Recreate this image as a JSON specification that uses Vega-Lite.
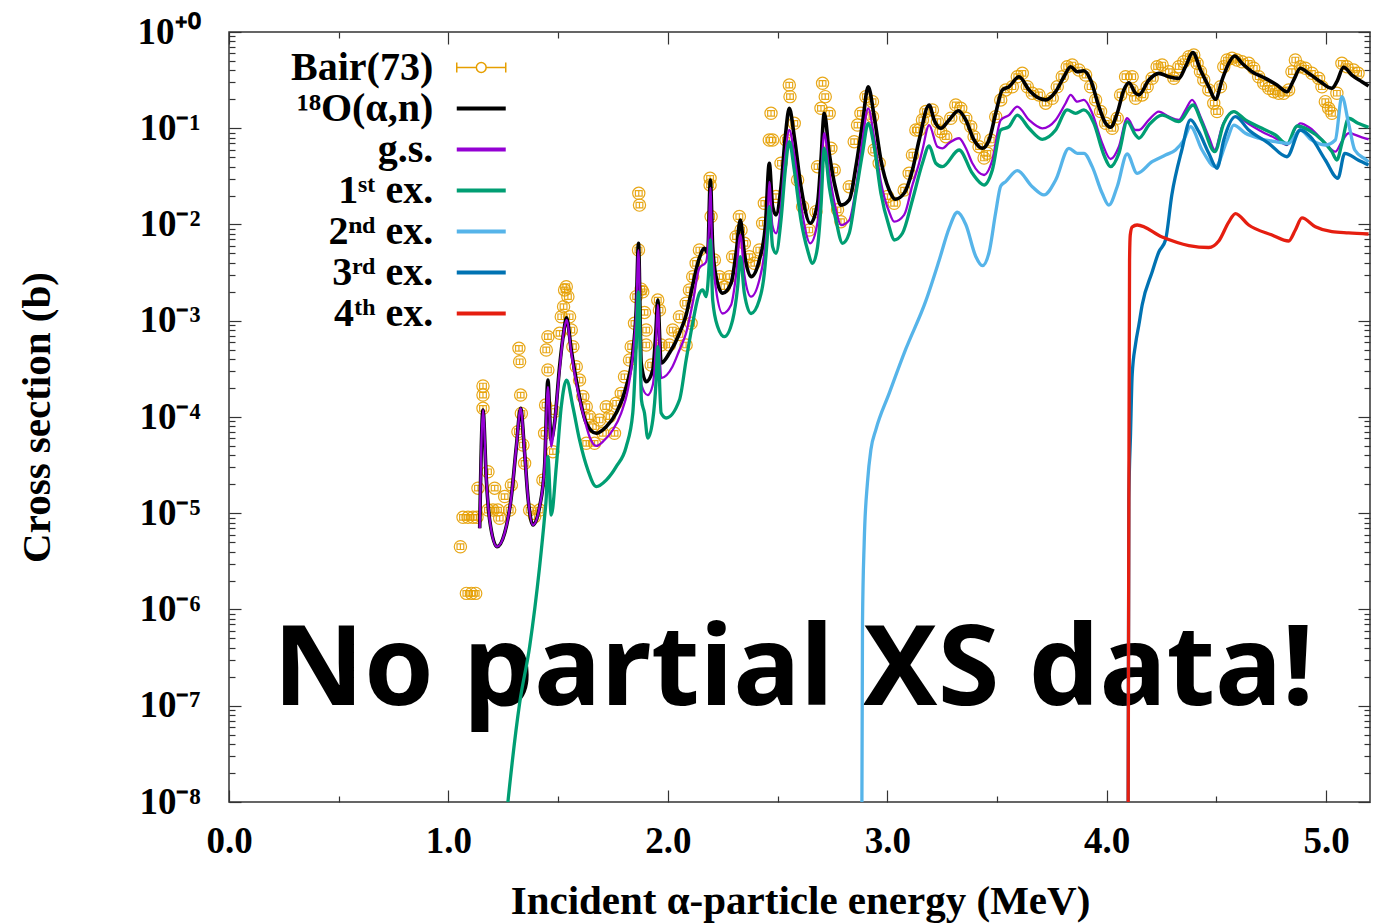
{
  "$schema": "https://vega.github.io/schema/vega-lite/v6.json",
  "width": 1141,
  "height": 770,
  "autosize": {"type": "none"},
  "padding": {"left": 229, "top": 32, "right": 21, "bottom": 121},
  "background": "white",
  "config": {
    "view": {"stroke": "#333333", "strokeWidth": 1.5},
    "axis": {"domain": false, "grid": false, "tickColor": "#333333", "tickWidth": 1.2},
    "legend": {"orient": "none", "legendX": 232.25, "direction": "vertical", "title": null,
      "symbolType": "M-2,0L2,0", "symbolSize": 600, "symbolStrokeWidth": 4, "symbolFillColor": "transparent",
      "labelFont": "Liberation Serif", "labelFontWeight": "bold", "labelFontSize": 40, "labelColor": "#000000",
      "labelAlign": "right", "labelBaseline": "middle", "labelOffset": -68, "labelLimit": 600, "rowPadding": 1, "padding": 0}
  },
  "datasets": {
    "bair": [
      {"s":"Bair(73)","E":1.0546,"xs":4.49e-6},{"s":"Bair(73)","E":1.0665,"xs":9.08e-6},{"s":"Bair(73)","E":1.0892,"xs":9.08e-6},{"s":"Bair(73)","E":1.112,"xs":9.08e-6},{"s":"Bair(73)","E":1.1302,"xs":9.08e-6},
      {"s":"Bair(73)","E":1.0819,"xs":1.47e-6},{"s":"Bair(73)","E":1.1047,"xs":1.47e-6},{"s":"Bair(73)","E":1.1243,"xs":1.47e-6},{"s":"Bair(73)","E":1.1347,"xs":1.82e-5},
      {"s":"Bair(73)","E":1.1575,"xs":1.23e-4},{"s":"Bair(73)","E":1.1575,"xs":1.69e-4},{"s":"Bair(73)","E":1.1575,"xs":2.10e-4},{"s":"Bair(73)","E":1.1802,"xs":2.70e-5},
      {"s":"Bair(73)","E":1.1802,"xs":1.08e-5},{"s":"Bair(73)","E":1.203,"xs":1.08e-5},{"s":"Bair(73)","E":1.2107,"xs":1.82e-5},{"s":"Bair(73)","E":1.2257,"xs":1.08e-5},
      {"s":"Bair(73)","E":1.2335,"xs":8.87e-6},{"s":"Bair(73)","E":1.2563,"xs":1.49e-5},{"s":"Bair(73)","E":1.279,"xs":1.08e-5},{"s":"Bair(73)","E":1.2868,"xs":1.97e-5},
      {"s":"Bair(73)","E":1.3213,"xs":5.17e-4},{"s":"Bair(73)","E":1.3245,"xs":3.75e-4},{"s":"Bair(73)","E":1.3291,"xs":1.69e-4},{"s":"Bair(73)","E":1.3323,"xs":1.09e-4},
      {"s":"Bair(73)","E":1.3168,"xs":7.03e-5},{"s":"Bair(73)","E":1.3396,"xs":5.12e-5},{"s":"Bair(73)","E":1.3473,"xs":3.30e-5},{"s":"Bair(73)","E":1.3701,"xs":1.08e-5},
      {"s":"Bair(73)","E":1.3928,"xs":9.21e-6},{"s":"Bair(73)","E":1.4156,"xs":1.08e-5},{"s":"Bair(73)","E":1.4306,"xs":2.21e-5},{"s":"Bair(73)","E":1.4383,"xs":6.77e-5},
      {"s":"Bair(73)","E":1.4429,"xs":1.33e-4},{"s":"Bair(73)","E":1.4533,"xs":3.08e-4},{"s":"Bair(73)","E":1.4461,"xs":4.97e-4},{"s":"Bair(73)","E":1.4533,"xs":6.83e-4},
      {"s":"Bair(73)","E":1.4761,"xs":4.36e-5},{"s":"Bair(73)","E":1.4838,"xs":1.14e-4},{"s":"Bair(73)","E":1.5066,"xs":7.4e-4},{"s":"Bair(73)","E":1.5143,"xs":1.10e-3},
      {"s":"Bair(73)","E":1.5248,"xs":1.40e-3},{"s":"Bair(73)","E":1.5294,"xs":2.09e-3},{"s":"Bair(73)","E":1.5371,"xs":2.26e-3},{"s":"Bair(73)","E":1.5444,"xs":1.78e-3},
      {"s":"Bair(73)","E":1.5521,"xs":1.10e-3},{"s":"Bair(73)","E":1.5599,"xs":8.01e-4},{"s":"Bair(73)","E":1.5671,"xs":5.38e-4},{"s":"Bair(73)","E":1.5826,"xs":3.33e-4},
      {"s":"Bair(73)","E":1.5976,"xs":2.42e-4},{"s":"Bair(73)","E":1.6127,"xs":1.63e-4},{"s":"Bair(73)","E":1.6281,"xs":1.28e-4},{"s":"Bair(73)","E":1.6431,"xs":1.01e-4},
      {"s":"Bair(73)","E":1.6582,"xs":7.93e-5},{"s":"Bair(73)","E":1.6281,"xs":5.33e-5},{"s":"Bair(73)","E":1.6659,"xs":5.33e-5},{"s":"Bair(73)","E":1.6887,"xs":9.31e-5},
      {"s":"Bair(73)","E":1.7037,"xs":6.77e-5},{"s":"Bair(73)","E":1.7192,"xs":1.28e-4},{"s":"Bair(73)","E":1.7342,"xs":1.01e-4},{"s":"Bair(73)","E":1.757,"xs":6.77e-5},
      {"s":"Bair(73)","E":1.7647,"xs":1.39e-4},{"s":"Bair(73)","E":1.7874,"xs":1.76e-4},{"s":"Bair(73)","E":1.8025,"xs":2.62e-4},{"s":"Bair(73)","E":1.8252,"xs":3.91e-4},
      {"s":"Bair(73)","E":1.833,"xs":5.38e-4},{"s":"Bair(73)","E":1.848,"xs":9.41e-4},{"s":"Bair(73)","E":1.8557,"xs":1.78e-3},{"s":"Bair(73)","E":1.8857,"xs":2.00e-3},
      {"s":"Bair(73)","E":1.8935,"xs":1.22e-3},{"s":"Bair(73)","E":1.9012,"xs":8.01e-4},{"s":"Bair(73)","E":1.9012,"xs":5.6e-4},{"s":"Bair(73)","E":1.924,"xs":3.47e-4},
      {"s":"Bair(73)","E":1.954,"xs":1.64e-3},{"s":"Bair(73)","E":1.9618,"xs":1.29e-3},{"s":"Bair(73)","E":1.9695,"xs":5.6e-4},{"s":"Bair(73)","E":2.0073,"xs":5.6e-4},
      {"s":"Bair(73)","E":2.0528,"xs":7.2e-4},{"s":"Bair(73)","E":2.0833,"xs":5.6e-4},{"s":"Bair(73)","E":2.1061,"xs":9.41e-4},{"s":"Bair(73)","E":1.8675,"xs":2.11e-2},
      {"s":"Bair(73)","E":1.8707,"xs":1.59e-2},{"s":"Bair(73)","E":1.8662,"xs":5.43e-3},{"s":"Bair(73)","E":1.8785,"xs":2.13e-3},{"s":"Bair(73)","E":2.1438,"xs":5.43e-3},
      {"s":"Bair(73)","E":2.1288,"xs":3.95e-3},{"s":"Bair(73)","E":2.1133,"xs":2.87e-3},{"s":"Bair(73)","E":2.0983,"xs":2.09e-3},{"s":"Bair(73)","E":2.0833,"xs":1.52e-3},
      {"s":"Bair(73)","E":2.0528,"xs":1.10e-3},{"s":"Bair(73)","E":2.0223,"xs":8.01e-4},{"s":"Bair(73)","E":2.1925,"xs":3.02e-2},{"s":"Bair(73)","E":2.1925,"xs":2.58e-2},
      {"s":"Bair(73)","E":2.1971,"xs":1.21e-2},{"s":"Bair(73)","E":2.2121,"xs":4.28e-3},{"s":"Bair(73)","E":2.2349,"xs":2.87e-3},{"s":"Bair(73)","E":2.2576,"xs":2.26e-3},
      {"s":"Bair(73)","E":2.2804,"xs":2.87e-3},{"s":"Bair(73)","E":2.2954,"xs":4.63e-3},{"s":"Bair(73)","E":2.3109,"xs":7.47e-3},{"s":"Bair(73)","E":2.3259,"xs":1.21e-2},
      {"s":"Bair(73)","E":2.3336,"xs":8.77e-3},{"s":"Bair(73)","E":2.3487,"xs":6.38e-3},{"s":"Bair(73)","E":2.3714,"xs":4.63e-3},{"s":"Bair(73)","E":2.3942,"xs":3.95e-3},
      {"s":"Bair(73)","E":2.4169,"xs":5.43e-3},{"s":"Bair(73)","E":2.432,"xs":1.03e-2},{"s":"Bair(73)","E":2.4397,"xs":1.66e-2},{"s":"Bair(73)","E":2.4702,"xs":0.143},
      {"s":"Bair(73)","E":2.4624,"xs":7.55e-2},{"s":"Bair(73)","E":2.4775,"xs":7.55e-2},{"s":"Bair(73)","E":2.4929,"xs":1.95e-2},{"s":"Bair(73)","E":2.5157,"xs":4.33e-2},
      {"s":"Bair(73)","E":2.5384,"xs":7.55e-2},{"s":"Bair(73)","E":2.5535,"xs":0.281},{"s":"Bair(73)","E":2.5567,"xs":0.213},{"s":"Bair(73)","E":2.5762,"xs":0.1125},
      {"s":"Bair(73)","E":2.5913,"xs":2.90e-2},{"s":"Bair(73)","E":2.614,"xs":1.53e-2},{"s":"Bair(73)","E":2.6445,"xs":8.77e-3},{"s":"Bair(73)","E":2.675,"xs":1.36e-2},
      {"s":"Bair(73)","E":2.6823,"xs":3.99e-2},{"s":"Bair(73)","E":2.6978,"xs":0.161},{"s":"Bair(73)","E":2.7051,"xs":0.293},{"s":"Bair(73)","E":2.7173,"xs":0.213},
      {"s":"Bair(73)","E":2.7355,"xs":0.143},{"s":"Bair(73)","E":2.7433,"xs":6.19e-2},{"s":"Bair(73)","E":2.7583,"xs":3.68e-2},{"s":"Bair(73)","E":2.7733,"xs":1.42e-2},
      {"s":"Bair(73)","E":2.7888,"xs":1.07e-2},{"s":"Bair(73)","E":2.8266,"xs":2.47e-2},{"s":"Bair(73)","E":2.8493,"xs":7.25e-2},{"s":"Bair(73)","E":2.8644,"xs":0.108},
      {"s":"Bair(73)","E":2.8798,"xs":0.143},{"s":"Bair(73)","E":2.9026,"xs":0.213},{"s":"Bair(73)","E":2.9326,"xs":0.189},{"s":"Bair(73)","E":2.9326,"xs":0.132},
      {"s":"Bair(73)","E":2.9404,"xs":5.94e-2},{"s":"Bair(73)","E":2.9631,"xs":4.33e-2},{"s":"Bair(73)","E":3.0009,"xs":1.95e-2},{"s":"Bair(73)","E":3.0314,"xs":1.66e-2},
      {"s":"Bair(73)","E":3.0769,"xs":2.28e-2},{"s":"Bair(73)","E":3.0997,"xs":3.4e-2},{"s":"Bair(73)","E":3.1147,"xs":5.27e-2},{"s":"Bair(73)","E":3.1302,"xs":9.59e-2},
      {"s":"Bair(73)","E":3.1452,"xs":9.59e-2},{"s":"Bair(73)","E":3.1602,"xs":0.122},{"s":"Bair(73)","E":3.1757,"xs":0.149},{"s":"Bair(73)","E":3.2057,"xs":0.155},
      {"s":"Bair(73)","E":3.2285,"xs":0.117},{"s":"Bair(73)","E":3.244,"xs":9.21e-2},{"s":"Bair(73)","E":3.2667,"xs":8.17e-2},{"s":"Bair(73)","E":3.2895,"xs":0.127},
      {"s":"Bair(73)","E":3.3122,"xs":0.1745},{"s":"Bair(73)","E":3.335,"xs":0.161},{"s":"Bair(73)","E":3.3578,"xs":0.127},{"s":"Bair(73)","E":3.3805,"xs":0.104},
      {"s":"Bair(73)","E":3.3955,"xs":8.17e-2},{"s":"Bair(73)","E":3.4183,"xs":6.43e-2},{"s":"Bair(73)","E":3.4411,"xs":4.91e-2},{"s":"Bair(73)","E":3.4561,"xs":5.49e-2},
      {"s":"Bair(73)","E":3.4715,"xs":7.55e-2},{"s":"Bair(73)","E":3.4943,"xs":0.132},{"s":"Bair(73)","E":3.5171,"xs":0.197},{"s":"Bair(73)","E":3.5398,"xs":0.25},
      {"s":"Bair(73)","E":3.5699,"xs":0.27},{"s":"Bair(73)","E":3.5926,"xs":0.343},{"s":"Bair(73)","E":3.6154,"xs":0.372},{"s":"Bair(73)","E":3.6381,"xs":0.27},
      {"s":"Bair(73)","E":3.6609,"xs":0.231},{"s":"Bair(73)","E":3.6914,"xs":0.222},{"s":"Bair(73)","E":3.7219,"xs":0.182},{"s":"Bair(73)","E":3.7519,"xs":0.205},
      {"s":"Bair(73)","E":3.7747,"xs":0.27},{"s":"Bair(73)","E":3.7974,"xs":0.343},{"s":"Bair(73)","E":3.8202,"xs":0.436},{"s":"Bair(73)","E":3.8429,"xs":0.454},
      {"s":"Bair(73)","E":3.8735,"xs":0.403},{"s":"Bair(73)","E":3.9039,"xs":0.357},{"s":"Bair(73)","E":3.9267,"xs":0.27},{"s":"Bair(73)","E":3.9495,"xs":0.197},
      {"s":"Bair(73)","E":3.9722,"xs":0.149},{"s":"Bair(73)","E":3.995,"xs":0.1125},{"s":"Bair(73)","E":4.0251,"xs":0.0999},{"s":"Bair(73)","E":4.0478,"xs":0.127},
      {"s":"Bair(73)","E":4.0633,"xs":0.222},{"s":"Bair(73)","E":4.086,"xs":0.343},{"s":"Bair(73)","E":4.1161,"xs":0.343},{"s":"Bair(73)","E":4.1161,"xs":0.25},
      {"s":"Bair(73)","E":4.1316,"xs":0.205},{"s":"Bair(73)","E":4.1616,"xs":0.222},{"s":"Bair(73)","E":4.1843,"xs":0.27},{"s":"Bair(73)","E":4.2071,"xs":0.33},
      {"s":"Bair(73)","E":4.2299,"xs":0.436},{"s":"Bair(73)","E":4.2526,"xs":0.454},{"s":"Bair(73)","E":4.2831,"xs":0.387},{"s":"Bair(73)","E":4.3059,"xs":0.33},
      {"s":"Bair(73)","E":4.3286,"xs":0.436},{"s":"Bair(73)","E":4.3514,"xs":0.491},{"s":"Bair(73)","E":4.3741,"xs":0.554},{"s":"Bair(73)","E":4.3969,"xs":0.577},
      {"s":"Bair(73)","E":4.4119,"xs":0.473},{"s":"Bair(73)","E":4.4274,"xs":0.387},{"s":"Bair(73)","E":4.4424,"xs":0.317},{"s":"Bair(73)","E":4.4652,"xs":0.25},
      {"s":"Bair(73)","E":4.4879,"xs":0.182},{"s":"Bair(73)","E":4.5029,"xs":0.149},{"s":"Bair(73)","E":4.5184,"xs":0.27},{"s":"Bair(73)","E":4.5335,"xs":0.436},
      {"s":"Bair(73)","E":4.5485,"xs":0.512},{"s":"Bair(73)","E":4.5712,"xs":0.533},{"s":"Bair(73)","E":4.594,"xs":0.512},{"s":"Bair(73)","E":4.6167,"xs":0.491},
      {"s":"Bair(73)","E":4.6472,"xs":0.473},{"s":"Bair(73)","E":4.67,"xs":0.42},{"s":"Bair(73)","E":4.6928,"xs":0.343},{"s":"Bair(73)","E":4.7155,"xs":0.293},
      {"s":"Bair(73)","E":4.7383,"xs":0.26},{"s":"Bair(73)","E":4.7611,"xs":0.24},{"s":"Bair(73)","E":4.7838,"xs":0.231},{"s":"Bair(73)","E":4.8066,"xs":0.231},
      {"s":"Bair(73)","E":4.8293,"xs":0.25},{"s":"Bair(73)","E":4.8443,"xs":0.387},{"s":"Bair(73)","E":4.8598,"xs":0.512},{"s":"Bair(73)","E":4.8826,"xs":0.436},
      {"s":"Bair(73)","E":4.9053,"xs":0.42},{"s":"Bair(73)","E":4.9353,"xs":0.372},{"s":"Bair(73)","E":4.9659,"xs":0.33},{"s":"Bair(73)","E":4.9809,"xs":0.27},
      {"s":"Bair(73)","E":4.9964,"xs":0.189},{"s":"Bair(73)","E":5.0114,"xs":0.161},{"s":"Bair(73)","E":5.0264,"xs":0.143},{"s":"Bair(73)","E":5.0491,"xs":0.231},
      {"s":"Bair(73)","E":5.0719,"xs":0.473},{"s":"Bair(73)","E":5.0947,"xs":0.436},{"s":"Bair(73)","E":5.1252,"xs":0.403},{"s":"Bair(73)","E":5.1456,"xs":0.372}
    ],
    "total": [
      {"s":"¹⁸O(α,n)","E":1.1425,"xs":6.98e-6},{"s":"¹⁸O(α,n)","E":1.1575,"xs":1.18e-4},{"s":"¹⁸O(α,n)","E":1.173,"xs":2.21e-5},{"s":"¹⁸O(α,n)","E":1.188,"xs":8.51e-6},
      {"s":"¹⁸O(α,n)","E":1.2212,"xs":4.49e-6},{"s":"¹⁸O(α,n)","E":1.2563,"xs":6.24e-6},{"s":"¹⁸O(α,n)","E":1.2868,"xs":1.49e-5},{"s":"¹⁸O(α,n)","E":1.3095,"xs":4.91e-5},
      {"s":"¹⁸O(α,n)","E":1.3291,"xs":1.23e-4},{"s":"¹⁸O(α,n)","E":1.3473,"xs":4.23e-5},{"s":"¹⁸O(α,n)","E":1.3623,"xs":1.49e-5},{"s":"¹⁸O(α,n)","E":1.3851,"xs":7.55e-6},
      {"s":"¹⁸O(α,n)","E":1.4156,"xs":1.17e-5},{"s":"¹⁸O(α,n)","E":1.4383,"xs":3.05e-5},{"s":"¹⁸O(α,n)","E":1.4533,"xs":2.42e-4},{"s":"¹⁸O(α,n)","E":1.4679,"xs":5.77e-5},
      {"s":"¹⁸O(α,n)","E":1.4838,"xs":8.67e-5},{"s":"¹⁸O(α,n)","E":1.5066,"xs":3.33e-4},{"s":"¹⁸O(α,n)","E":1.5248,"xs":7.46e-4},{"s":"¹⁸O(α,n)","E":1.5385,"xs":1.07e-3},
      {"s":"¹⁸O(α,n)","E":1.5599,"xs":4.97e-4},{"s":"¹⁸O(α,n)","E":1.5826,"xs":2.42e-4},{"s":"¹⁸O(α,n)","E":1.6281,"xs":8.67e-5},{"s":"¹⁸O(α,n)","E":1.6736,"xs":6.77e-5},
      {"s":"¹⁸O(α,n)","E":1.7192,"xs":7.93e-5},{"s":"¹⁸O(α,n)","E":1.7647,"xs":1.10e-4},{"s":"¹⁸O(α,n)","E":1.8102,"xs":2.06e-4},{"s":"¹⁸O(α,n)","E":1.8402,"xs":4.62e-4},
      {"s":"¹⁸O(α,n)","E":1.8557,"xs":1.29e-3},{"s":"¹⁸O(α,n)","E":1.8662,"xs":6.38e-3},{"s":"¹⁸O(α,n)","E":1.8785,"xs":3.64e-4},{"s":"¹⁸O(α,n)","E":1.9012,"xs":2.33e-4},
      {"s":"¹⁸O(α,n)","E":1.9313,"xs":3.08e-4},{"s":"¹⁸O(α,n)","E":1.9458,"xs":8.01e-4},{"s":"¹⁸O(α,n)","E":1.954,"xs":1.64e-3},{"s":"¹⁸O(α,n)","E":1.9695,"xs":3.64e-4},
      {"s":"¹⁸O(α,n)","E":2.0073,"xs":4.62e-4},{"s":"¹⁸O(α,n)","E":2.0528,"xs":7.38e-4},{"s":"¹⁸O(α,n)","E":2.0833,"xs":1.15e-3},{"s":"¹⁸O(α,n)","E":2.1133,"xs":2.35e-3},
      {"s":"¹⁸O(α,n)","E":2.1438,"xs":4.49e-3},{"s":"¹⁸O(α,n)","E":2.1666,"xs":5.66e-3},{"s":"¹⁸O(α,n)","E":2.1816,"xs":5.06e-3},{"s":"¹⁸O(α,n)","E":2.1939,"xs":2.90e-2},
      {"s":"¹⁸O(α,n)","E":2.2044,"xs":5.88e-3},{"s":"¹⁸O(α,n)","E":2.2198,"xs":2.87e-3},{"s":"¹⁸O(α,n)","E":2.2499,"xs":1.93e-3},{"s":"¹⁸O(α,n)","E":2.2881,"xs":2.45e-3},
      {"s":"¹⁸O(α,n)","E":2.3109,"xs":5.02e-3},{"s":"¹⁸O(α,n)","E":2.3304,"xs":1.11e-2},{"s":"¹⁸O(α,n)","E":2.3487,"xs":5.02e-3},{"s":"¹⁸O(α,n)","E":2.3792,"xs":2.87e-3},
      {"s":"¹⁸O(α,n)","E":2.4169,"xs":4.28e-3},{"s":"¹⁸O(α,n)","E":2.4442,"xs":9.48e-3},{"s":"¹⁸O(α,n)","E":2.4624,"xs":4.33e-2},{"s":"¹⁸O(α,n)","E":2.4775,"xs":1.53e-2},
      {"s":"¹⁸O(α,n)","E":2.4929,"xs":1.26e-2},{"s":"¹⁸O(α,n)","E":2.5157,"xs":2.47e-2},{"s":"¹⁸O(α,n)","E":2.5353,"xs":8.17e-2},{"s":"¹⁸O(α,n)","E":2.5535,"xs":0.161},
      {"s":"¹⁸O(α,n)","E":2.5762,"xs":8.17e-2},{"s":"¹⁸O(α,n)","E":2.6067,"xs":2.47e-2},{"s":"¹⁸O(α,n)","E":2.6491,"xs":1.03e-2},{"s":"¹⁸O(α,n)","E":2.6823,"xs":1.66e-2},
      {"s":"¹⁸O(α,n)","E":2.6978,"xs":4.68e-2},{"s":"¹⁸O(α,n)","E":2.7128,"xs":0.143},{"s":"¹⁸O(α,n)","E":2.7355,"xs":5.49e-2},{"s":"¹⁸O(α,n)","E":2.7661,"xs":2.28e-2},
      {"s":"¹⁸O(α,n)","E":2.7888,"xs":1.59e-2},{"s":"¹⁸O(α,n)","E":2.8266,"xs":1.80e-2},{"s":"¹⁸O(α,n)","E":2.8571,"xs":3.99e-2},{"s":"¹⁸O(α,n)","E":2.8871,"xs":0.1125},
      {"s":"¹⁸O(α,n)","E":2.9131,"xs":0.27},{"s":"¹⁸O(α,n)","E":2.9404,"xs":0.132},{"s":"¹⁸O(α,n)","E":2.9709,"xs":4.68e-2},{"s":"¹⁸O(α,n)","E":3.0086,"xs":2.28e-2},
      {"s":"¹⁸O(α,n)","E":3.0359,"xs":1.83e-2},{"s":"¹⁸O(α,n)","E":3.0769,"xs":2.11e-2},{"s":"¹⁸O(α,n)","E":3.1147,"xs":3.68e-2},{"s":"¹⁸O(α,n)","E":3.1452,"xs":7.55e-2},
      {"s":"¹⁸O(α,n)","E":3.1907,"xs":0.1745},{"s":"¹⁸O(α,n)","E":3.2135,"xs":0.122},{"s":"¹⁸O(α,n)","E":3.244,"xs":0.0999},{"s":"¹⁸O(α,n)","E":3.2817,"xs":0.122},
      {"s":"¹⁸O(α,n)","E":3.3241,"xs":0.152},{"s":"¹⁸O(α,n)","E":3.3578,"xs":0.122},{"s":"¹⁸O(α,n)","E":3.3955,"xs":7.55e-2},{"s":"¹⁸O(α,n)","E":3.4333,"xs":6.19e-2},
      {"s":"¹⁸O(α,n)","E":3.4638,"xs":7.55e-2},{"s":"¹⁸O(α,n)","E":3.4943,"xs":0.143},{"s":"¹⁸O(α,n)","E":3.5243,"xs":0.25},{"s":"¹⁸O(α,n)","E":3.5549,"xs":0.27},
      {"s":"¹⁸O(α,n)","E":3.6004,"xs":0.343},{"s":"¹⁸O(α,n)","E":3.6459,"xs":0.25},{"s":"¹⁸O(α,n)","E":3.6914,"xs":0.205},{"s":"¹⁸O(α,n)","E":3.7219,"xs":0.197},
      {"s":"¹⁸O(α,n)","E":3.7674,"xs":0.24},{"s":"¹⁸O(α,n)","E":3.8052,"xs":0.343},{"s":"¹⁸O(α,n)","E":3.8357,"xs":0.436},{"s":"¹⁸O(α,n)","E":3.8657,"xs":0.387},
      {"s":"¹⁸O(α,n)","E":3.8962,"xs":0.396},{"s":"¹⁸O(α,n)","E":3.9267,"xs":0.317},{"s":"¹⁸O(α,n)","E":3.9645,"xs":0.1675},{"s":"¹⁸O(α,n)","E":3.995,"xs":0.1125},
      {"s":"¹⁸O(α,n)","E":4.0177,"xs":0.1023},{"s":"¹⁸O(α,n)","E":4.0478,"xs":0.143},{"s":"¹⁸O(α,n)","E":4.0783,"xs":0.25},{"s":"¹⁸O(α,n)","E":4.101,"xs":0.297},
      {"s":"¹⁸O(α,n)","E":4.1316,"xs":0.231},{"s":"¹⁸O(α,n)","E":4.1466,"xs":0.222},{"s":"¹⁸O(α,n)","E":4.1921,"xs":0.317},{"s":"¹⁸O(α,n)","E":4.2376,"xs":0.372},
      {"s":"¹⁸O(α,n)","E":4.2831,"xs":0.343},{"s":"¹⁸O(α,n)","E":4.3286,"xs":0.33},{"s":"¹⁸O(α,n)","E":4.3591,"xs":0.436},{"s":"¹⁸O(α,n)","E":4.3924,"xs":0.61},
      {"s":"¹⁸O(α,n)","E":4.4274,"xs":0.403},{"s":"¹⁸O(α,n)","E":4.4652,"xs":0.27},{"s":"¹⁸O(α,n)","E":4.4957,"xs":0.2},{"s":"¹⁸O(α,n)","E":4.5257,"xs":0.317},
      {"s":"¹⁸O(α,n)","E":4.5562,"xs":0.473},{"s":"¹⁸O(α,n)","E":4.5835,"xs":0.563},{"s":"¹⁸O(α,n)","E":4.6167,"xs":0.473},{"s":"¹⁸O(α,n)","E":4.6623,"xs":0.387},
      {"s":"¹⁸O(α,n)","E":4.7233,"xs":0.33},{"s":"¹⁸O(α,n)","E":4.7761,"xs":0.281},{"s":"¹⁸O(α,n)","E":4.8216,"xs":0.24},{"s":"¹⁸O(α,n)","E":4.8521,"xs":0.317},
      {"s":"¹⁸O(α,n)","E":4.8826,"xs":0.42},{"s":"¹⁸O(α,n)","E":4.9204,"xs":0.372},{"s":"¹⁸O(α,n)","E":4.9736,"xs":0.305},{"s":"¹⁸O(α,n)","E":5.0264,"xs":0.26},
      {"s":"¹⁸O(α,n)","E":5.0491,"xs":0.305},{"s":"¹⁸O(α,n)","E":5.0797,"xs":0.43},{"s":"¹⁸O(α,n)","E":5.1174,"xs":0.357},{"s":"¹⁸O(α,n)","E":5.1629,"xs":0.305},
      {"s":"¹⁸O(α,n)","E":5.1935,"xs":0.275}
    ],
    "gs": [
      {"s":"g.s.","E":1.1425,"xs":6.98e-6},{"s":"g.s.","E":1.1575,"xs":1.18e-4},{"s":"g.s.","E":1.173,"xs":2.21e-5},{"s":"g.s.","E":1.188,"xs":8.51e-6},
      {"s":"g.s.","E":1.2212,"xs":4.49e-6},{"s":"g.s.","E":1.2563,"xs":6.24e-6},{"s":"g.s.","E":1.2868,"xs":1.49e-5},{"s":"g.s.","E":1.3095,"xs":4.91e-5},
      {"s":"g.s.","E":1.3291,"xs":1.23e-4},{"s":"g.s.","E":1.3473,"xs":4.23e-5},{"s":"g.s.","E":1.3623,"xs":1.49e-5},{"s":"g.s.","E":1.3851,"xs":7.55e-6},
      {"s":"g.s.","E":1.4156,"xs":1.17e-5},{"s":"g.s.","E":1.4383,"xs":3.05e-5},{"s":"g.s.","E":1.4533,"xs":2.06e-4},{"s":"g.s.","E":1.4688,"xs":4.91e-5},
      {"s":"g.s.","E":1.4838,"xs":8.67e-5},{"s":"g.s.","E":1.5066,"xs":3.08e-4},{"s":"g.s.","E":1.5248,"xs":7.46e-4},{"s":"g.s.","E":1.5385,"xs":1.02e-3},
      {"s":"g.s.","E":1.5599,"xs":4.62e-4},{"s":"g.s.","E":1.5826,"xs":2.25e-4},{"s":"g.s.","E":1.6127,"xs":1.10e-4},{"s":"g.s.","E":1.6431,"xs":6.24e-5},
      {"s":"g.s.","E":1.6736,"xs":5.0e-5},{"s":"g.s.","E":1.7114,"xs":5.77e-5},{"s":"g.s.","E":1.7492,"xs":7.33e-5},{"s":"g.s.","E":1.7874,"xs":1.10e-4},
      {"s":"g.s.","E":1.8175,"xs":1.91e-4},{"s":"g.s.","E":1.8402,"xs":4.23e-4},{"s":"g.s.","E":1.8557,"xs":1.20e-3},{"s":"g.s.","E":1.8662,"xs":5.43e-3},
      {"s":"g.s.","E":1.8798,"xs":2.15e-4},{"s":"g.s.","E":1.9085,"xs":1.69e-4},{"s":"g.s.","E":1.9313,"xs":2.15e-4},{"s":"g.s.","E":1.9458,"xs":5.6e-4},
      {"s":"g.s.","E":1.954,"xs":1.46e-3},{"s":"g.s.","E":1.9695,"xs":2.54e-4},{"s":"g.s.","E":2.0209,"xs":3.33e-4},{"s":"g.s.","E":2.0528,"xs":4.97e-4},
      {"s":"g.s.","E":2.0833,"xs":7.46e-4},{"s":"g.s.","E":2.1133,"xs":1.53e-3},{"s":"g.s.","E":2.1438,"xs":3.53e-3},{"s":"g.s.","E":2.1743,"xs":4.08e-3},
      {"s":"g.s.","E":2.1871,"xs":8.77e-3},{"s":"g.s.","E":2.1939,"xs":2.40e-2},{"s":"g.s.","E":2.2007,"xs":6.90e-3},{"s":"g.s.","E":2.2198,"xs":2.09e-3},
      {"s":"g.s.","E":2.2499,"xs":1.19e-3},{"s":"g.s.","E":2.2881,"xs":1.46e-3},{"s":"g.s.","E":2.3109,"xs":2.99e-3},{"s":"g.s.","E":2.3304,"xs":7.78e-3},
      {"s":"g.s.","E":2.3487,"xs":2.99e-3},{"s":"g.s.","E":2.3792,"xs":1.78e-3},{"s":"g.s.","E":2.4169,"xs":2.65e-3},{"s":"g.s.","E":2.4397,"xs":5.02e-3},
      {"s":"g.s.","E":2.4556,"xs":1.26e-2},{"s":"g.s.","E":2.4624,"xs":2.77e-2},{"s":"g.s.","E":2.4761,"xs":9.88e-3},{"s":"g.s.","E":2.4929,"xs":8.11e-3},
      {"s":"g.s.","E":2.5157,"xs":1.59e-2},{"s":"g.s.","E":2.5353,"xs":5.27e-2},{"s":"g.s.","E":2.5535,"xs":9.59e-2},{"s":"g.s.","E":2.5762,"xs":5.27e-2},
      {"s":"g.s.","E":2.6067,"xs":1.59e-2},{"s":"g.s.","E":2.6491,"xs":6.38e-3},{"s":"g.s.","E":2.6823,"xs":1.06e-2},{"s":"g.s.","E":2.6978,"xs":3.04e-2},
      {"s":"g.s.","E":2.7128,"xs":8.87e-2},{"s":"g.s.","E":2.7355,"xs":3.51e-2},{"s":"g.s.","E":2.7661,"xs":1.42e-2},{"s":"g.s.","E":2.7888,"xs":9.88e-3},
      {"s":"g.s.","E":2.8266,"xs":1.11e-2},{"s":"g.s.","E":2.8571,"xs":2.40e-2},{"s":"g.s.","E":2.8871,"xs":7.55e-2},{"s":"g.s.","E":2.9131,"xs":0.161},
      {"s":"g.s.","E":2.9404,"xs":7.92e-2},{"s":"g.s.","E":2.9709,"xs":2.77e-2},{"s":"g.s.","E":3.0086,"xs":1.35e-2},{"s":"g.s.","E":3.0314,"xs":1.07e-2},
      {"s":"g.s.","E":3.0769,"xs":1.26e-2},{"s":"g.s.","E":3.1147,"xs":2.57e-2},{"s":"g.s.","E":3.1452,"xs":4.36e-2},{"s":"g.s.","E":3.1602,"xs":5.94e-2},
      {"s":"g.s.","E":3.1907,"xs":0.108},{"s":"g.s.","E":3.2285,"xs":6.43e-2},{"s":"g.s.","E":3.2513,"xs":6.19e-2},{"s":"g.s.","E":3.2817,"xs":7.03e-2},
      {"s":"g.s.","E":3.3273,"xs":7.87e-2},{"s":"g.s.","E":3.3578,"xs":6.24e-2},{"s":"g.s.","E":3.3878,"xs":4.33e-2},{"s":"g.s.","E":3.4411,"xs":3.27e-2},
      {"s":"g.s.","E":3.4789,"xs":4.68e-2},{"s":"g.s.","E":3.5171,"xs":0.122},{"s":"g.s.","E":3.5549,"xs":0.137},{"s":"g.s.","E":3.5926,"xs":0.1675},
      {"s":"g.s.","E":3.6459,"xs":0.122},{"s":"g.s.","E":3.7064,"xs":0.0999},{"s":"g.s.","E":3.7674,"xs":0.122},{"s":"g.s.","E":3.8129,"xs":0.182},
      {"s":"g.s.","E":3.8357,"xs":0.222},{"s":"g.s.","E":3.8657,"xs":0.189},{"s":"g.s.","E":3.8962,"xs":0.197},{"s":"g.s.","E":3.934,"xs":0.143},
      {"s":"g.s.","E":3.9795,"xs":6.98e-2},{"s":"g.s.","E":4.0177,"xs":4.79e-2},{"s":"g.s.","E":4.0555,"xs":6.43e-2},{"s":"g.s.","E":4.0933,"xs":0.127},
      {"s":"g.s.","E":4.1316,"xs":9.59e-2},{"s":"g.s.","E":4.1466,"xs":9.59e-2},{"s":"g.s.","E":4.1921,"xs":0.122},{"s":"g.s.","E":4.2376,"xs":0.149},
      {"s":"g.s.","E":4.2831,"xs":0.132},{"s":"g.s.","E":4.3286,"xs":0.122},{"s":"g.s.","E":4.3591,"xs":0.155},{"s":"g.s.","E":4.3892,"xs":0.197},
      {"s":"g.s.","E":4.4274,"xs":0.132},{"s":"g.s.","E":4.4652,"xs":8.17e-2},{"s":"g.s.","E":4.4925,"xs":5.94e-2},{"s":"g.s.","E":4.5257,"xs":0.104},
      {"s":"g.s.","E":4.579,"xs":0.149},{"s":"g.s.","E":4.6322,"xs":0.117},{"s":"g.s.","E":4.7078,"xs":9.21e-2},{"s":"g.s.","E":4.7688,"xs":7.87e-2},
      {"s":"g.s.","E":4.8216,"xs":6.70e-2},{"s":"g.s.","E":4.8598,"xs":0.0999},{"s":"g.s.","E":4.8826,"xs":0.1125},{"s":"g.s.","E":4.9281,"xs":0.0999},
      {"s":"g.s.","E":4.9964,"xs":6.98e-2},{"s":"g.s.","E":5.0419,"xs":5.71e-2},{"s":"g.s.","E":5.0705,"xs":7.20e-2},{"s":"g.s.","E":5.1024,"xs":8.87e-2},
      {"s":"g.s.","E":5.1629,"xs":8.05e-2},{"s":"g.s.","E":5.1935,"xs":7.68e-2}
    ],
    "partial": [
      {"s":"1ˢᵗ ex.","E":1.2494,"xs":3.17e-9},{"s":"1ˢᵗ ex.","E":1.2713,"xs":1.01e-8},{"s":"1ˢᵗ ex.","E":1.3245,"xs":1.06e-7},{"s":"1ˢᵗ ex.","E":1.3701,"xs":4.11e-7},
      {"s":"1ˢᵗ ex.","E":1.4156,"xs":2.79e-6},{"s":"1ˢᵗ ex.","E":1.4383,"xs":9.21e-6},{"s":"1ˢᵗ ex.","E":1.4461,"xs":1.49e-5},{"s":"1ˢᵗ ex.","E":1.4533,"xs":3.87e-5},
      {"s":"1ˢᵗ ex.","E":1.4688,"xs":9.59e-6},{"s":"1ˢᵗ ex.","E":1.4916,"xs":3.05e-5},{"s":"1ˢᵗ ex.","E":1.5143,"xs":1.28e-4},{"s":"1ˢᵗ ex.","E":1.5385,"xs":2.42e-4},
      {"s":"1ˢᵗ ex.","E":1.5671,"xs":1.28e-4},{"s":"1ˢᵗ ex.","E":1.5976,"xs":5.77e-5},{"s":"1ˢᵗ ex.","E":1.6354,"xs":2.81e-5},{"s":"1ˢᵗ ex.","E":1.6736,"xs":1.89e-5},
      {"s":"1ˢᵗ ex.","E":1.7192,"xs":2.21e-5},{"s":"1ˢᵗ ex.","E":1.7647,"xs":3.05e-5},{"s":"1ˢᵗ ex.","E":1.8102,"xs":4.91e-5},{"s":"1ˢᵗ ex.","E":1.8402,"xs":1.10e-4},
      {"s":"1ˢᵗ ex.","E":1.8557,"xs":5.38e-4},{"s":"1ˢᵗ ex.","E":1.8662,"xs":2.00e-3},{"s":"1ˢᵗ ex.","E":1.8798,"xs":1.50e-4},{"s":"1ˢᵗ ex.","E":1.8935,"xs":1.10e-4},
      {"s":"1ˢᵗ ex.","E":1.9085,"xs":6.05e-5},{"s":"1ˢᵗ ex.","E":1.9313,"xs":9.31e-5},{"s":"1ˢᵗ ex.","E":1.9467,"xs":2.42e-4},{"s":"1ˢᵗ ex.","E":1.954,"xs":5.38e-4},
      {"s":"1ˢᵗ ex.","E":1.9695,"xs":1.10e-4},{"s":"1ˢᵗ ex.","E":1.9923,"xs":9.76e-5},{"s":"1ˢᵗ ex.","E":2.0528,"xs":1.50e-4},{"s":"1ˢᵗ ex.","E":2.0833,"xs":3.91e-4},
      {"s":"1ˢᵗ ex.","E":2.1133,"xs":9.48e-4},{"s":"1ˢᵗ ex.","E":2.1438,"xs":1.93e-3},{"s":"1ˢᵗ ex.","E":2.1588,"xs":2.09e-3},{"s":"1ˢᵗ ex.","E":2.1743,"xs":1.78e-3},
      {"s":"1ˢᵗ ex.","E":2.1893,"xs":4.28e-3},{"s":"1ˢᵗ ex.","E":2.1939,"xs":6.90e-3},{"s":"1ˢᵗ ex.","E":2.2044,"xs":1.64e-3},{"s":"1ˢᵗ ex.","E":2.2271,"xs":8.67e-4},
      {"s":"1ˢᵗ ex.","E":2.2576,"xs":6.83e-4},{"s":"1ˢᵗ ex.","E":2.2954,"xs":1.02e-3},{"s":"1ˢᵗ ex.","E":2.3182,"xs":2.26e-3},{"s":"1ˢᵗ ex.","E":2.3304,"xs":4.63e-3},
      {"s":"1ˢᵗ ex.","E":2.3487,"xs":1.93e-3},{"s":"1ˢᵗ ex.","E":2.3792,"xs":1.19e-3},{"s":"1ˢᵗ ex.","E":2.4169,"xs":1.64e-3},{"s":"1ˢᵗ ex.","E":2.4397,"xs":3.11e-3},
      {"s":"1ˢᵗ ex.","E":2.4547,"xs":8.11e-3},{"s":"1ˢᵗ ex.","E":2.4624,"xs":1.53e-2},{"s":"1ˢᵗ ex.","E":2.4775,"xs":5.88e-3},{"s":"1ˢᵗ ex.","E":2.4929,"xs":5.02e-3},
      {"s":"1ˢᵗ ex.","E":2.5157,"xs":1.11e-2},{"s":"1ˢᵗ ex.","E":2.5353,"xs":3.68e-2},{"s":"1ˢᵗ ex.","E":2.5535,"xs":7.25e-2},{"s":"1ˢᵗ ex.","E":2.5762,"xs":3.68e-2},
      {"s":"1ˢᵗ ex.","E":2.6067,"xs":1.11e-2},{"s":"1ˢᵗ ex.","E":2.6368,"xs":5.43e-3},{"s":"1ˢᵗ ex.","E":2.6595,"xs":3.95e-3},{"s":"1ˢᵗ ex.","E":2.6823,"xs":5.88e-3},
      {"s":"1ˢᵗ ex.","E":2.6978,"xs":1.53e-2},{"s":"1ˢᵗ ex.","E":2.7128,"xs":6.19e-2},{"s":"1ˢᵗ ex.","E":2.7355,"xs":2.47e-2},{"s":"1ˢᵗ ex.","E":2.7661,"xs":1.11e-2},
      {"s":"1ˢᵗ ex.","E":2.7961,"xs":6.38e-3},{"s":"1ˢᵗ ex.","E":2.8266,"xs":8.11e-3},{"s":"1ˢᵗ ex.","E":2.8571,"xs":2.11e-2},{"s":"1ˢᵗ ex.","E":2.8871,"xs":5.49e-2},
      {"s":"1ˢᵗ ex.","E":2.9131,"xs":0.1125},{"s":"1ˢᵗ ex.","E":2.9404,"xs":6.43e-2},{"s":"1ˢᵗ ex.","E":2.9709,"xs":2.11e-2},{"s":"1ˢᵗ ex.","E":3.0086,"xs":9.48e-3},
      {"s":"1ˢᵗ ex.","E":3.0314,"xs":6.90e-3},{"s":"1ˢᵗ ex.","E":3.0692,"xs":8.11e-3},{"s":"1ˢᵗ ex.","E":3.1147,"xs":1.80e-2},{"s":"1ˢᵗ ex.","E":3.1602,"xs":4.33e-2},
      {"s":"1ˢᵗ ex.","E":3.1907,"xs":6.54e-2},{"s":"1ˢᵗ ex.","E":3.2212,"xs":4.33e-2},{"s":"1ˢᵗ ex.","E":3.2513,"xs":3.99e-2},{"s":"1ˢᵗ ex.","E":3.3273,"xs":5.94e-2},
      {"s":"1ˢᵗ ex.","E":3.3878,"xs":3.40e-2},{"s":"1ˢᵗ ex.","E":3.4411,"xs":2.57e-2},{"s":"1ˢᵗ ex.","E":3.4789,"xs":3.68e-2},{"s":"1ˢᵗ ex.","E":3.5171,"xs":9.59e-2},
      {"s":"1ˢᵗ ex.","E":3.5549,"xs":0.104},{"s":"1ˢᵗ ex.","E":3.5926,"xs":0.137},{"s":"1ˢᵗ ex.","E":3.6459,"xs":0.0999},{"s":"1ˢᵗ ex.","E":3.7064,"xs":7.68e-2},
      {"s":"1ˢᵗ ex.","E":3.7674,"xs":9.59e-2},{"s":"1ˢᵗ ex.","E":3.8202,"xs":0.155},{"s":"1ˢᵗ ex.","E":3.8584,"xs":0.143},{"s":"1ˢᵗ ex.","E":3.8962,"xs":0.155},
      {"s":"1ˢᵗ ex.","E":3.9417,"xs":0.1125},{"s":"1ˢᵗ ex.","E":3.9873,"xs":5.27e-2},{"s":"1ˢᵗ ex.","E":4.0177,"xs":3.99e-2},{"s":"1ˢᵗ ex.","E":4.0555,"xs":5.49e-2},
      {"s":"1ˢᵗ ex.","E":4.0933,"xs":0.117},{"s":"1ˢᵗ ex.","E":4.1316,"xs":8.51e-2},{"s":"1ˢᵗ ex.","E":4.1466,"xs":7.87e-2},{"s":"1ˢᵗ ex.","E":4.1921,"xs":0.108},
      {"s":"1ˢᵗ ex.","E":4.2526,"xs":0.137},{"s":"1ˢᵗ ex.","E":4.3286,"xs":0.117},{"s":"1ˢᵗ ex.","E":4.3937,"xs":0.1745},{"s":"1ˢᵗ ex.","E":4.4347,"xs":0.1125},
      {"s":"1ˢᵗ ex.","E":4.4925,"xs":5.71e-2},{"s":"1ˢᵗ ex.","E":4.5335,"xs":0.1125},{"s":"1ˢᵗ ex.","E":4.579,"xs":0.149},{"s":"1ˢᵗ ex.","E":4.6322,"xs":0.122},
      {"s":"1ˢᵗ ex.","E":4.7078,"xs":0.0999},{"s":"1ˢᵗ ex.","E":4.7688,"xs":8.51e-2},{"s":"1ˢᵗ ex.","E":4.8216,"xs":6.86e-2},{"s":"1ˢᵗ ex.","E":4.8671,"xs":0.1055},
      {"s":"1ˢᵗ ex.","E":4.9204,"xs":9.59e-2},{"s":"1ˢᵗ ex.","E":4.9809,"xs":7.55e-2},{"s":"1ˢᵗ ex.","E":5.0264,"xs":5.71e-2},{"s":"1ˢᵗ ex.","E":5.0491,"xs":4.68e-2},
      {"s":"1ˢᵗ ex.","E":5.0719,"xs":6.98e-2},{"s":"1ˢᵗ ex.","E":5.1024,"xs":0.127},{"s":"1ˢᵗ ex.","E":5.1456,"xs":0.1125},{"s":"1ˢᵗ ex.","E":5.1935,"xs":0.1023},

      {"s":"2ⁿᵈ ex.","E":2.8835,"xs":9.6e-10},{"s":"2ⁿᵈ ex.","E":2.8844,"xs":1.0e-8},{"s":"2ⁿᵈ ex.","E":2.8871,"xs":7.27e-7},{"s":"2ⁿᵈ ex.","E":2.8949,"xs":4.99e-6},
      {"s":"2ⁿᵈ ex.","E":2.9099,"xs":2.11e-5},{"s":"2ⁿᵈ ex.","E":2.9253,"xs":4.57e-5},{"s":"2ⁿᵈ ex.","E":2.9481,"xs":7.40e-5},{"s":"2ⁿᵈ ex.","E":3.0086,"xs":1.76e-4},
      {"s":"2ⁿᵈ ex.","E":3.0846,"xs":5.09e-4},{"s":"2ⁿᵈ ex.","E":3.1757,"xs":1.61e-3},{"s":"2ⁿᵈ ex.","E":3.2362,"xs":4.23e-3},{"s":"2ⁿᵈ ex.","E":3.2817,"xs":9.13e-3},
      {"s":"2ⁿᵈ ex.","E":3.3195,"xs":1.34e-2},{"s":"2ⁿᵈ ex.","E":3.3578,"xs":1.00e-2},{"s":"2ⁿᵈ ex.","E":3.4033,"xs":4.65e-3},{"s":"2ⁿᵈ ex.","E":3.4333,"xs":3.73e-3},
      {"s":"2ⁿᵈ ex.","E":3.4638,"xs":5.12e-3},{"s":"2ⁿᵈ ex.","E":3.4943,"xs":1.34e-2},{"s":"2ⁿᵈ ex.","E":3.5171,"xs":2.51e-2},{"s":"2ⁿᵈ ex.","E":3.5398,"xs":2.79e-2},
      {"s":"2ⁿᵈ ex.","E":3.5926,"xs":3.62e-2},{"s":"2ⁿᵈ ex.","E":3.6609,"xs":2.47e-2},{"s":"2ⁿᵈ ex.","E":3.7141,"xs":2.03e-2},{"s":"2ⁿᵈ ex.","E":3.7674,"xs":2.90e-2},
      {"s":"2ⁿᵈ ex.","E":3.8279,"xs":6.19e-2},{"s":"2ⁿᵈ ex.","E":3.8657,"xs":5.49e-2},{"s":"2ⁿᵈ ex.","E":3.8962,"xs":5.49e-2},{"s":"2ⁿᵈ ex.","E":3.934,"xs":3.99e-2},
      {"s":"2ⁿᵈ ex.","E":3.9795,"xs":2.11e-2},{"s":"2ⁿᵈ ex.","E":4.01,"xs":1.59e-2},{"s":"2ⁿᵈ ex.","E":4.0478,"xs":2.47e-2},{"s":"2ⁿᵈ ex.","E":4.0933,"xs":5.40e-2},
      {"s":"2ⁿᵈ ex.","E":4.1388,"xs":3.40e-2},{"s":"2ⁿᵈ ex.","E":4.2071,"xs":4.49e-2},{"s":"2ⁿᵈ ex.","E":4.2681,"xs":5.27e-2},{"s":"2ⁿᵈ ex.","E":4.3136,"xs":5.94e-2},
      {"s":"2ⁿᵈ ex.","E":4.3514,"xs":7.55e-2},{"s":"2ⁿᵈ ex.","E":4.3819,"xs":0.104},{"s":"2ⁿᵈ ex.","E":4.4347,"xs":5.94e-2},{"s":"2ⁿᵈ ex.","E":4.4957,"xs":3.99e-2},
      {"s":"2ⁿᵈ ex.","E":4.5485,"xs":7.55e-2},{"s":"2ⁿᵈ ex.","E":4.579,"xs":0.108},{"s":"2ⁿᵈ ex.","E":4.6322,"xs":8.87e-2},{"s":"2ⁿᵈ ex.","E":4.6928,"xs":7.87e-2},
      {"s":"2ⁿᵈ ex.","E":4.7688,"xs":7.25e-2},{"s":"2ⁿᵈ ex.","E":4.8293,"xs":6.98e-2},{"s":"2ⁿᵈ ex.","E":4.8826,"xs":9.59e-2},{"s":"2ⁿᵈ ex.","E":4.9331,"xs":7.55e-2},
      {"s":"2ⁿᵈ ex.","E":4.9964,"xs":6.70e-2},{"s":"2ⁿᵈ ex.","E":5.0419,"xs":7.55e-2},{"s":"2ⁿᵈ ex.","E":5.0719,"xs":0.213},{"s":"2ⁿᵈ ex.","E":5.1024,"xs":0.1125},
      {"s":"2ⁿᵈ ex.","E":5.1306,"xs":5.94e-2},{"s":"2ⁿᵈ ex.","E":5.1833,"xs":4.68e-2},{"s":"2ⁿᵈ ex.","E":5.1935,"xs":4.46e-2},

      {"s":"3ʳᵈ ex.","E":4.0965,"xs":9.6e-10},{"s":"3ʳᵈ ex.","E":4.0979,"xs":1.0e-8},{"s":"3ʳᵈ ex.","E":4.101,"xs":1.37e-5},{"s":"3ʳᵈ ex.","E":4.1088,"xs":6.82e-5},
      {"s":"3ʳᵈ ex.","E":4.1161,"xs":2.73e-4},{"s":"3ʳᵈ ex.","E":4.1316,"xs":5.73e-4},{"s":"3ʳᵈ ex.","E":4.1466,"xs":9.03e-4},{"s":"3ʳᵈ ex.","E":4.1616,"xs":1.46e-3},
      {"s":"3ʳᵈ ex.","E":4.2071,"xs":3.21e-3},{"s":"3ʳᵈ ex.","E":4.2376,"xs":5.18e-3},{"s":"3ʳᵈ ex.","E":4.2681,"xs":6.90e-3},{"s":"3ʳᵈ ex.","E":4.2968,"xs":2.03e-2},
      {"s":"3ʳᵈ ex.","E":4.3423,"xs":5.94e-2},{"s":"3ʳᵈ ex.","E":4.3819,"xs":0.122},{"s":"3ʳᵈ ex.","E":4.4197,"xs":9.21e-2},{"s":"3ʳᵈ ex.","E":4.4652,"xs":5.49e-2},
      {"s":"3ʳᵈ ex.","E":4.5029,"xs":3.84e-2},{"s":"3ʳᵈ ex.","E":4.5335,"xs":7.55e-2},{"s":"3ʳᵈ ex.","E":4.5867,"xs":0.132},{"s":"3ʳᵈ ex.","E":4.6472,"xs":9.59e-2},
      {"s":"3ʳᵈ ex.","E":4.7383,"xs":6.98e-2},{"s":"3ʳᵈ ex.","E":4.8216,"xs":5.06e-2},{"s":"3ʳᵈ ex.","E":4.8826,"xs":9.59e-2},{"s":"3ʳᵈ ex.","E":4.9281,"xs":8.17e-2},
      {"s":"3ʳᵈ ex.","E":4.9964,"xs":4.68e-2},{"s":"3ʳᵈ ex.","E":5.0537,"xs":3.02e-2},{"s":"3ʳᵈ ex.","E":5.0851,"xs":5.49e-2},{"s":"3ʳᵈ ex.","E":5.1456,"xs":4.68e-2},
      {"s":"3ʳᵈ ex.","E":5.1935,"xs":4.15e-2},

      {"s":"4ᵗʰ ex.","E":4.0965,"xs":9.6e-10},{"s":"4ᵗʰ ex.","E":4.0979,"xs":1.0e-8},{"s":"4ᵗʰ ex.","E":4.101,"xs":1.37e-5},{"s":"4ᵗʰ ex.","E":4.1042,"xs":4.28e-3},
      {"s":"4ᵗʰ ex.","E":4.1074,"xs":7.78e-3},{"s":"4ᵗʰ ex.","E":4.1161,"xs":9.42e-3},{"s":"4ᵗʰ ex.","E":4.1388,"xs":9.88e-3},{"s":"4ᵗʰ ex.","E":4.2526,"xs":7.42e-3},
      {"s":"4ᵗʰ ex.","E":4.3741,"xs":6.05e-3},{"s":"4ᵗʰ ex.","E":4.4652,"xs":5.77e-3},{"s":"4ᵗʰ ex.","E":4.5107,"xs":6.74e-3},{"s":"4ᵗʰ ex.","E":4.5562,"xs":1.06e-2},
      {"s":"4ᵗʰ ex.","E":4.5867,"xs":1.30e-2},{"s":"4ᵗʰ ex.","E":4.6472,"xs":9.88e-3},{"s":"4ᵗʰ ex.","E":4.7533,"xs":7.78e-3},{"s":"4ᵗʰ ex.","E":4.8293,"xs":6.74e-3},
      {"s":"4ᵗʰ ex.","E":4.8598,"xs":8.77e-3},{"s":"4ᵗʰ ex.","E":4.8899,"xs":1.17e-2},{"s":"4ᵗʰ ex.","E":4.9508,"xs":9.48e-3},{"s":"4ᵗʰ ex.","E":5.0264,"xs":8.41e-3},
      {"s":"4ᵗʰ ex.","E":5.1024,"xs":8.17e-3},{"s":"4ᵗʰ ex.","E":5.1935,"xs":7.97e-3}
    ]
  },
  "resolve": {"axis": {"x": "independent", "y": "independent"}},
  "layer": [
    {
      "data": {"values": [{"label": "No partial XS data!"}]},
      "mark": {"type": "text", "font": "Noto Sans", "fontWeight": "bold", "fontSize": 112, "align": "center", "baseline": "alphabetic", "color": "#000000"},
      "encoding": {
        "text": {"field": "label"},
        "x": {"datum": 2.572, "type": "quantitative", "scale": {"type": "linear", "domain": [0, 5.2], "nice": false, "zero": false},
          "axis": {"orient": "bottom", "values": [0, 1, 2, 3, 4, 5], "format": ".1f", "ticks": false,
            "labelFont": "Liberation Serif", "labelFontWeight": "bold", "labelFontSize": 37, "labelColor": "#000000",
            "labelBaseline": "alphabetic", "labelPadding": 50, "labelFlush": false, "labelOverlap": false,
            "title": "Incident α-particle energy (MeV)", "titleFont": "Liberation Serif", "titleFontWeight": "bold", "titleFontSize": 41,
            "titleColor": "#000000", "titleX": 571, "titleY": 111, "titleAlign": "center", "titleBaseline": "alphabetic"}},
        "y": {"datum": 1.02e-7, "type": "quantitative", "scale": {"type": "log", "domain": [1e-8, 1], "nice": false},
          "axis": {"orient": "left", "values": [1e-8, 1e-7, 1e-6, 1e-5, 1e-4, 1e-3, 1e-2, 1e-1, 1], "ticks": false,
            "labelExpr": "'10' + (datum.value > 0.5 ? '⁺⁰' : '⁻' + ['⁰','¹','²','³','⁴','⁵','⁶','⁷','⁸'][round(-log(datum.value)/LN10)])",
            "labelFont": "Liberation Serif", "labelFontWeight": "bold", "labelFontSize": 37, "labelColor": "#000000",
            "labelAlign": "right", "labelBaseline": "middle", "labelPadding": 29, "labelFlush": false, "labelOverlap": false,
            "title": "Cross section (b)", "titleFont": "Liberation Serif", "titleFontWeight": "bold", "titleFontSize": 41,
            "titleColor": "#000000", "titleAngle": 270, "titleX": -192, "titleY": 385, "titleAlign": "center", "titleBaseline": "middle"}}
      }
    },
    {
      "data": {"name": "bair"},
      "mark": {"type": "point", "shape": "M-1,0A1,1 0 1,0 1,0A1,1 0 1,0 -1,0Z M-0.55,-0.45H0.55V0.45H-0.55Z M0,-0.45V0.45", "size": 150, "filled": false, "strokeWidth": 1.2, "opacity": 0.9, "clip": true},
      "encoding": {
        "x": {"field": "E", "type": "quantitative", "scale": {"type": "linear", "domain": [0, 5.2], "nice": false, "zero": false},
          "axis": {"orient": "bottom", "values": [0, 1, 2, 3, 4, 5], "labels": false, "ticks": true, "tickSize": -12, "title": null}},
        "y": {"field": "xs", "type": "quantitative", "scale": {"type": "log", "domain": [1e-8, 1], "nice": false},
          "axis": {"orient": "left", "values": [1e-8, 1e-7, 1e-6, 1e-5, 1e-4, 1e-3, 1e-2, 1e-1, 1], "labels": false, "ticks": true, "tickSize": -12, "title": null}},
        "stroke": {"field": "s", "type": "nominal",
          "scale": {"domain": ["Bair(73)"], "range": ["#E69F00"]},
          "legend": {"legendY": 15.5, "symbolType": "M-2,0H-0.4M0.4,0H2M-2,-0.4V0.4M2,-0.4V0.4M-0.4,0A0.4,0.4 0 1,0 0.4,0A0.4,0.4 0 1,0 -0.4,0", "symbolStrokeWidth": 1.5, "symbolOpacity": 1}}
      }
    },
    {
      "data": {"name": "total"},
      "mark": {"type": "line", "interpolate": "monotone", "strokeWidth": 3.6, "clip": true},
      "encoding": {
        "x": {"field": "E", "type": "quantitative", "scale": {"type": "linear", "domain": [0, 5.2], "nice": false, "zero": false},
          "axis": {"orient": "bottom", "values": [0.5, 1.5, 2.5, 3.5, 4.5], "labels": false, "ticks": true, "tickSize": -6, "title": null}},
        "y": {"field": "xs", "type": "quantitative", "scale": {"type": "log", "domain": [1e-8, 1], "nice": false},
          "axis": {"orient": "left", "values": [2e-8,3e-8,4e-8,5e-8,6e-8,7e-8,8e-8,9e-8,2e-7,3e-7,4e-7,5e-7,6e-7,7e-7,8e-7,9e-7,2e-6,3e-6,4e-6,5e-6,6e-6,7e-6,8e-6,9e-6,2e-5,3e-5,4e-5,5e-5,6e-5,7e-5,8e-5,9e-5,2e-4,3e-4,4e-4,5e-4,6e-4,7e-4,8e-4,9e-4,2e-3,3e-3,4e-3,5e-3,6e-3,7e-3,8e-3,9e-3,2e-2,3e-2,4e-2,5e-2,6e-2,7e-2,8e-2,9e-2,0.2,0.3,0.4,0.5,0.6,0.7,0.8,0.9], "labels": false, "ticks": true, "tickSize": -6, "title": null}},
        "color": {"field": "s", "type": "nominal",
          "scale": {"domain": ["¹⁸O(α,n)", "g.s.", "1ˢᵗ ex.", "2ⁿᵈ ex.", "3ʳᵈ ex.", "4ᵗʰ ex."], "range": ["#000000", "#9400D3", "#009E73", "#56B4E9", "#0072B2", "#E51E10"]},
          "legend": {"legendY": 56.5}}
      }
    },
    {
      "data": {"name": "gs"},
      "mark": {"type": "line", "interpolate": "monotone", "strokeWidth": 2.3, "clip": true},
      "encoding": {
        "x": {"field": "E", "type": "quantitative", "scale": {"type": "linear", "domain": [0, 5.2], "nice": false, "zero": false},
          "axis": {"orient": "top", "values": [0, 1, 2, 3, 4, 5], "labels": false, "ticks": true, "tickSize": -12, "title": null}},
        "y": {"field": "xs", "type": "quantitative", "scale": {"type": "log", "domain": [1e-8, 1], "nice": false},
          "axis": {"orient": "right", "values": [1e-8, 1e-7, 1e-6, 1e-5, 1e-4, 1e-3, 1e-2, 1e-1, 1], "labels": false, "ticks": true, "tickSize": -12, "title": null}},
        "color": {"field": "s", "type": "nominal",
          "scale": {"domain": ["¹⁸O(α,n)", "g.s.", "1ˢᵗ ex.", "2ⁿᵈ ex.", "3ʳᵈ ex.", "4ᵗʰ ex."], "range": ["#000000", "#9400D3", "#009E73", "#56B4E9", "#0072B2", "#E51E10"]},
          "legend": {"legendY": 56.5}}
      }
    },
    {
      "data": {"name": "partial"},
      "mark": {"type": "line", "interpolate": "monotone", "strokeWidth": 3.3, "clip": true},
      "encoding": {
        "x": {"field": "E", "type": "quantitative", "scale": {"type": "linear", "domain": [0, 5.2], "nice": false, "zero": false},
          "axis": {"orient": "top", "values": [0.5, 1.5, 2.5, 3.5, 4.5], "labels": false, "ticks": true, "tickSize": -6, "title": null}},
        "y": {"field": "xs", "type": "quantitative", "scale": {"type": "log", "domain": [1e-8, 1], "nice": false},
          "axis": {"orient": "right", "values": [2e-8,3e-8,4e-8,5e-8,6e-8,7e-8,8e-8,9e-8,2e-7,3e-7,4e-7,5e-7,6e-7,7e-7,8e-7,9e-7,2e-6,3e-6,4e-6,5e-6,6e-6,7e-6,8e-6,9e-6,2e-5,3e-5,4e-5,5e-5,6e-5,7e-5,8e-5,9e-5,2e-4,3e-4,4e-4,5e-4,6e-4,7e-4,8e-4,9e-4,2e-3,3e-3,4e-3,5e-3,6e-3,7e-3,8e-3,9e-3,2e-2,3e-2,4e-2,5e-2,6e-2,7e-2,8e-2,9e-2,0.2,0.3,0.4,0.5,0.6,0.7,0.8,0.9], "labels": false, "ticks": true, "tickSize": -6, "title": null}},
        "color": {"field": "s", "type": "nominal",
          "scale": {"domain": ["¹⁸O(α,n)", "g.s.", "1ˢᵗ ex.", "2ⁿᵈ ex.", "3ʳᵈ ex.", "4ᵗʰ ex."], "range": ["#000000", "#9400D3", "#009E73", "#56B4E9", "#0072B2", "#E51E10"]},
          "legend": {"legendY": 56.5}}
      }
    }
  ]
}
